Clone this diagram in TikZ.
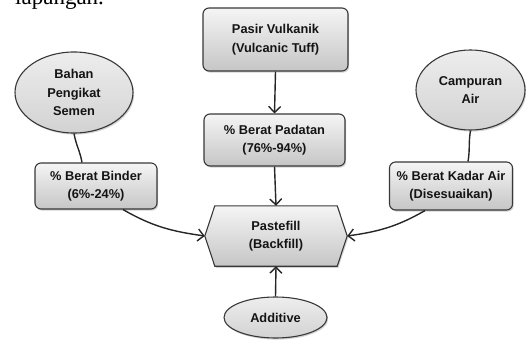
\documentclass[tikz,border=0pt]{standalone}
\usepackage{fontspec}
\setmainfont{Liberation Sans}
\newfontfamily\serifcut{Liberation Serif}
\usetikzlibrary{shapes.geometric,arrows.meta,shadows}
\definecolor{edgegray}{HTML}{383838}
\definecolor{txtgray}{HTML}{141414}
\tikzset{
  lbl/.style={font=\fontsize{12.8}{18.5}\selectfont\bfseries, text=txtgray, align=center},
  shd/.style={drop shadow={shadow xshift=1.2pt,shadow yshift=-1.6pt,opacity=0.35}},
  gbox/.style={lbl, shd, rectangle, rounded corners=6pt, draw=edgegray, line width=1.1pt,
     top color=gray!8, bottom color=gray!45, inner sep=0pt},
  gell/.style={lbl, shd, ellipse, draw=edgegray, line width=1.1pt,
     top color=gray!14, bottom color=gray!35, inner sep=0pt},
  conn/.style={draw=black!85, line width=1.4pt},
  arr/.style={conn, -{Straight Barb[length=6pt,width=12pt,line width=1.4pt]}},
}
\begin{document}
\begin{tikzpicture}[x=1pt,y=1pt]
\useasboundingbox (0,0) rectangle (526,340);
\clip (0,0) rectangle (526,340);
\node[anchor=base west, inner sep=0pt, font=\serifcut\fontsize{23}{23}\selectfont] (cut) at (15,335) {lapangan.};

\node[gbox, minimum width=145pt, minimum height=63pt] (pasir) at (275.5,300.5) {Pasir Vulkanik\\(Vulcanic Tuff)};
\node[gbox, minimum width=141pt, minimum height=52pt] (padatan) at (274.5,200) {\% Berat Padatan\\(76\%-94\%)};
\node[gbox, minimum width=122pt, minimum height=46pt] (binder) at (96,154) {\% Berat Binder\\(6\%-24\%)};
\node[gbox, minimum width=123pt, minimum height=48pt] (kadar) at (451,154) {\% Berat Kadar Air\\(Disesuaikan)};
\node[gell, minimum width=118pt, minimum height=81pt] (bahan) at (74,247.5) {Bahan\\Pengikat\\Semen};
\node[gell, minimum width=109pt, minimum height=80pt] (campuran) at (470.5,250) {Campuran\\Air};
\node[gell, minimum width=103pt, minimum height=41pt] (additive) at (275.5,22.5) {Additive};

\node[lbl, minimum width=142pt, minimum height=60pt, inner sep=0pt] (paste) at (276,104) {};
\path[shd, draw=edgegray, line width=1.1pt, top color=gray!8, bottom color=gray!45]
  (paste.west) -- ([xshift=10pt]paste.north west) -- ([xshift=-10pt]paste.north east)
  -- (paste.east) -- ([xshift=-10pt]paste.south east) -- ([xshift=10pt]paste.south west) -- cycle;
\node[lbl] (pastetext) at (paste.center) {Pastefill\\(Backfill)};

\draw[arr] (pasir.south) -- (padatan.north);
\draw[arr] (padatan.south) -- (paste.north);
\draw[arr] (additive.north) -- (paste.south);
\draw[conn] (bahan.south) to[out=-80,in=100] ([xshift=-14pt]binder.north);
\draw[conn] (campuran.south) to[out=-100,in=80] ([xshift=17pt]kadar.north);
\draw[arr] ([xshift=27pt]binder.south) to[out=-30,in=172] (paste.west);
\draw[arr] ([xshift=-26pt]kadar.south) to[out=-150,in=8] (paste.east);
\end{tikzpicture}
\end{document}
